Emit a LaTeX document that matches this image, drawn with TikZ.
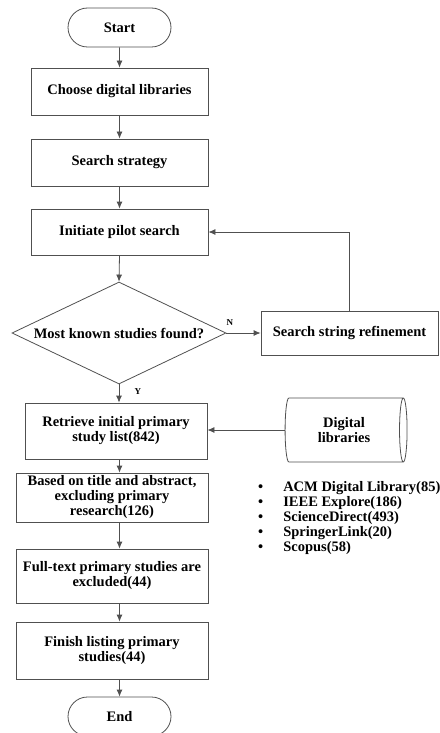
\documentclass[tikz,border=0pt]{standalone}
\usepackage{fontspec}
\setmainfont{Liberation Serif}
\usetikzlibrary{arrows.meta,shapes.geometric,shapes.misc,positioning}
\definecolor{linegray}{HTML}{505050}

\begin{document}
\begin{tikzpicture}[x=1pt, y=-1pt,
  font=\fontsize{14.5}{15}\selectfont\bfseries,
  term/.style={rounded rectangle, draw=linegray, line width=0.8pt, minimum width=103pt, minimum height=39pt, inner sep=0pt},
  proc/.style={rectangle, draw=linegray, line width=0.8pt, align=center, inner sep=0pt},
  decision/.style={diamond, draw=linegray, line width=0.8pt, minimum width=214pt, minimum height=102pt, inner sep=0pt},
  store/.style={cylinder, draw=linegray, line width=0.8pt, align=center, minimum width=64pt, minimum height=122pt, aspect=0.3, inner sep=0pt},
  arr/.style={draw=linegray, line width=0.8pt, -{Latex[length=7pt,width=6pt]}},
  yn/.style={font=\fontsize{9}{10}\selectfont\bfseries}]
  \useasboundingbox (0,0) rectangle (439,733);

  % main column
  \node[term] (start) at (119.5,27.5) {Start};
  \node[proc, minimum width=177pt, minimum height=47pt] (choose) at (119.5,91.5) {Choose digital libraries};
  \node[proc, minimum width=177pt, minimum height=47pt] (strategy) at (119.5,162.5) {Search strategy};
  \node[proc, minimum width=177pt, minimum height=46pt] (pilot) at (119.5,232) {Initiate pilot search};
  \node[decision] (found) at (119,333) {\makebox[0pt]{Most known studies found?}};
  \node[proc, minimum width=182pt, minimum height=56pt] (retrieve) at (116,431) {Retrieve initial primary\\study list(842)};
  \node[proc, minimum width=192pt, minimum height=49pt] (based) at (112,497.5) {Based on title and abstract,\\excluding primary\\research(126)};
  \node[proc, minimum width=192pt, minimum height=54pt] (fulltext) at (112,576) {Full-text primary studies are\\excluded(44)};
  \node[proc, minimum width=192pt, minimum height=57pt] (finish) at (112,650.5) {Finish listing primary\\studies(44)};
  \node[term] (end) at (119.5,716.5) {End};

  % right side
  \node[proc, minimum width=177pt, minimum height=44pt] (refine) at (349.5,333) {Search string refinement};
  \node[store] (library) at (344,430) {Digital\\libraries};
  \node[anchor=north west, inner sep=0pt] (dblist) at (258,481)
  {\begin{tabular}{@{}l@{\hspace{20pt}}l@{}}
    \textbullet & ACM Digital Library(85)\\
    \textbullet & IEEE Explore(186)\\
    \textbullet & ScienceDirect(493)\\
    \textbullet & SpringerLink(20)\\
    \textbullet & Scopus(58)
  \end{tabular}};

  \draw[arr] (start) -- (choose);
  \draw[arr] (choose) -- (strategy);
  \draw[arr] (strategy) -- (pilot);
  \draw[arr] (pilot.south) -- (found.north);
  \draw[arr] (found.east) -- node[yn, pos=0.1, above=4pt] {N} (refine.west);
  \draw[arr] (refine.north) |- (pilot.east);
  \draw[arr] (found.south) -- node[yn, pos=0.4, right=12pt] {Y} (found.south |- retrieve.north);
  \draw[arr] (library.west) -- (library.west -| retrieve.east);
  \draw[arr] (retrieve.south -| start.south) -- (based.north -| start.south);
  \draw[arr] (based.south -| start.south) -- (fulltext.north -| start.south);
  \draw[arr] (fulltext.south -| start.south) -- (finish.north -| start.south);
  \draw[arr] (finish.south -| start.south) -- (end);
\end{tikzpicture}
\end{document}
